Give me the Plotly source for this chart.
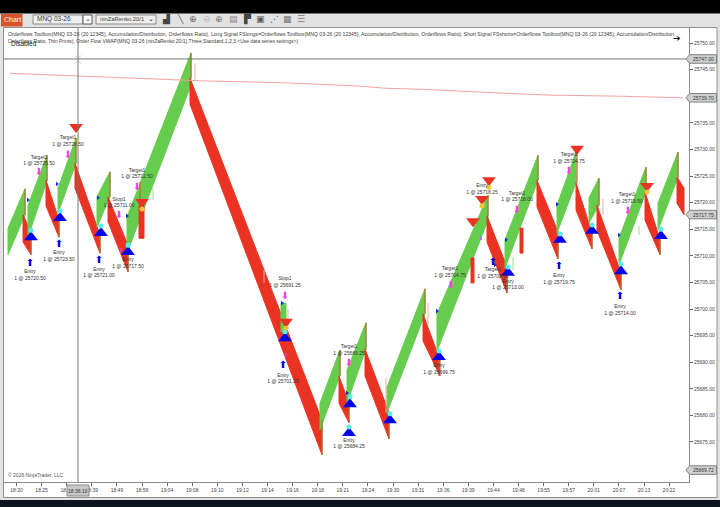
import plotly.graph_objects as go

FONT = "Liberation Sans"
W, H = 720, 507

# --- axis labels ---
time_labels = ["18:20", "18:25", "18:33", "18:39", "18:49", "18:59", "19:04", "19:08", "19:10", "19:12",
               "19:14", "19:16", "19:18", "19:21", "19:24", "19:30", "19:31", "19:36", "19:39", "19:44",
               "19:48", "19:55", "19:57", "20:01", "20:07", "20:13", "20:22"]
price_ticks = [25750, 25745, 25735, 25730, 25725, 25720, 25715, 25710, 25705, 25700, 25695, 25690, 25685, 25680, 25675]

# --- renko legs, one row per up move ---
green_x0 = [-8.5, 11.5, 41.5, 80.5, 110.5, 264.5, 303.5, 330.5, 370.5, 420.5, 488.5, 540.5, 572.5, 602.5, 641.5]
green_x1 = [8.5, 30.5, 59.5, 93.5, 174.5, 269.5, 323.5, 349.5, 408.5, 471.5, 521.5, 559.5, 582.5, 629.5, 661.5]
green_top0 = [25715.2, 25719.5, 25722.7, 25721.1, 25717.3, 25701.1, 25682.3, 25688.5, 25685.3, 25699.1, 25713.0, 25719.5, 25720.9, 25713.3, 25719.9]
green_bot0 = [25710.2, 25713.5, 25718.0, 25715.4, 25710.5, 25695.7, 25677.3, 25682.3, 25680.5, 25692.1, 25707.7, 25714.3, 25716.2, 25708.3, 25714.8]
green_top1 = [25722.6, 25728.9, 25732.1, 25725.8, 25748.1, 25701.1, 25692.3, 25697.4, 25703.8, 25721.4, 25728.9, 25729.5, 25724.6, 25726.7, 25729.5]
green_bot1 = [25717.7, 25724.1, 25727.4, 25721.1, 25742.1, 25695.7, 25687.4, 25692.5, 25699.1, 25716.7, 25724.2, 25723.7, 25719.5, 25722.0, 25724.8]

# --- renko legs, one row per down move ---
red_x0 = [6.5, 29.5, 58.5, 91.5, 122.5, 173.5, 322.5, 348.5, 406.5, 454.5, 470.5, 503.5, 520.5, 559.5, 580.5, 628.5, 660.5]
red_x1 = [14.5, 42.5, 83.5, 111.5, 127.5, 305.5, 332.5, 372.5, 423.5, 457.5, 490.5, 506.5, 541.5, 575.5, 604.5, 643.5, 667.5]
red_top0 = [25717.7, 25724.2, 25727.4, 25721.1, 25719.5, 25743.4, 25687.4, 25692.5, 25699.1, 25709.6, 25717.5, 25715.2, 25724.2, 25723.7, 25719.5, 25722.0, 25724.8]
red_bot0 = [25712.6, 25719.4, 25722.7, 25716.4, 25713.3, 25738.5, 25682.3, 25687.4, 25694.0, 25704.9, 25712.6, 25710.5, 25719.2, 25718.6, 25714.8, 25716.7, 25719.9]
red_top1 = [25714.5, 25716.7, 25713.9, 25712.0, 25719.5, 25679.1, 25682.3, 25680.5, 25690.4, 25709.6, 25707.9, 25715.2, 25714.5, 25714.3, 25706.8, 25713.0, 25722.7]
red_bot1 = [25710.2, 25713.5, 25710.5, 25707.0, 25713.3, 25672.6, 25678.6, 25675.6, 25687.4, 25704.9, 25703.0, 25710.5, 25709.4, 25711.3, 25703.6, 25710.2, 25717.7]

# --- wicks ---
olive_x = [8.5, 30.5, 59.5, 93.5, 123.5, 174.5, 323.5, 349.5, 408.5, 471.5, 521.5, 560.5, 582.5, 629.5, 661.5,
           14.5, 42.5, 83.5, 111.5, 305.5, 332.5, 372.5, 422.5, 490.5, 541.5, 575.5, 604.5, 643.5]
olive_low = [25717.7, 25724.1, 25727.4, 25721.1, 25719.5, 25743.4, 25687.4, 25692.5, 25699.1, 25717.5, 25724.2, 25723.7, 25719.5, 25722.0, 25724.8,
             25710.2, 25713.5, 25710.5, 25707.0, 25672.6, 25678.6, 25675.6, 25687.4, 25703.0, 25709.4, 25711.3, 25703.6, 25710.2]
olive_high = [25722.6, 25728.9, 25732.1, 25725.8, 25723.9, 25748.1, 25692.3, 25697.4, 25703.8, 25721.4, 25728.9, 25729.5, 25724.6, 25726.7, 25729.5,
              25714.5, 25716.7, 25713.9, 25712.0, 25679.1, 25682.3, 25680.5, 25690.4, 25707.9, 25714.5, 25714.3, 25706.8, 25713.0]
pale_x = [178.5, 369.5, 411.5, 271.5, 586.5, 247.5]
pale_low = [25743.0, 25680.5, 25697.0, 25696.1, 25717.7, 25704.9]
pale_high = [25746.2, 25687.0, 25701.1, 25700.0, 25720.7, 25707.3]
thin_green_x = [622.5, 136.5, 496.5]
thin_green_low = [25713.9, 25720.5, 25707.3]
thin_green_high = [25715.6, 25722.7, 25709.8]

# --- order flow vwap ---
vwap_x = [-6.5, 62.5, 183.5, 270.5, 343.5, 368.5, 404.5, 483.5, 533.5, 603.5, 666.5]
vwap_y = [25744.3, 25743.8, 25742.9, 25742.5, 25741.9, 25741.5, 25741.3, 25740.6, 25740.2, 25740.0, 25739.7]

# --- signals and fills ---
long_x = [14.5, 43.5, 84.5, 111.5, 268.5, 333.5, 332.5, 373.5, 422.5, 491.5, 543.5, 575.5, 604.5, 644.5]
long_y = [25713.5, 25717.1, 25714.3, 25710.7, 25694.5, 25682.1, 25676.7, 25679.1, 25691.0, 25706.8, 25713.0, 25714.7, 25707.1, 25713.7]
cyan_y = [25714.8, 25718.4, 25715.6, 25712.0, 25695.7, 25683.5, 25677.8, 25680.3, 25692.1, 25707.9, 25714.1, 25715.8, 25708.5, 25715.0]
short_x = [59.5, 125.5, 269.5, 472.5, 465.5, 456.5, 560.5, 630.5]
short_y = [25734.2, 25720.1, 25697.6, 25724.2, 25720.7, 25716.5, 25730.1, 25723.1]
yellow_x = [125.5, 269.5, 472.5, 465.5, 630.5]
yellow_y = [25718.8, 25696.4, 25722.9, 25719.4, 25722.0]
exit_x = [22.5, 51.5, 120.5, 102.5, 268.5, 332.5, 434.5, 500.5, 552.5, 611.5]
exit_y = [25725.6, 25728.9, 25722.9, 25717.5, 25702.4, 25689.7, 25704.5, 25718.6, 25725.8, 25718.4]
small_exit_x = [104.5, 269.5, 464.5]
small_exit_y = [25710.9, 25691.2, 25713.2]
flag_x = [11.5, 40.5, 81.5, 110.5, 265.5, 330.5, 420.5, 489.5, 478.5, 540.5, 602.5]
flag_y = [25720.5, 25723.5, 25720.9, 25717.5, 25701.1, 25684.2, 25699.6, 25713.0, 25708.3, 25719.7, 25713.9]
entry_x = [13.5, 42.5, 82.5, 266.5, 476.5, 542.5, 603.5]
entry_y = [25708.6, 25712.2, 25709.2, 25689.3, 25708.8, 25707.9, 25702.3]

# --- trade labels ---
label_x = [13.5, 42.5, 82.5, 111.5, 22.5, 51.5, 120.5, 102.5, 268.5, 266.5, 332.5, 332.5, 422.5, 433.5, 465.5, 476.5, 491.5, 500.5, 542.5, 552.5, 610.5, 603.5]
label_y = [25706.3, 25709.9, 25706.8, 25708.6, 25727.9, 25731.5, 25725.4, 25720.0, 25705.0, 25686.9, 25692.2, 25674.7, 25688.7, 25706.9, 25722.5, 25706.7, 25704.6, 25721.1, 25705.6, 25728.3, 25720.8, 25699.8]
label_name = ["Entry", "Entry", "Entry", "Entry", "Target1", "Target1", "Target1", "Stop1", "Stop1", "Entry", "Target1", "Entry", "Entry", "Target1", "Entry", "Target1", "Entry", "Target1", "Entry", "Target1", "Target1", "Entry"]
label_price = ["25720.50", "25723.50", "25721.00", "25717.50", "25725.50", "25728.50", "25722.50", "25711.00", "25691.25", "25701.25", "25689.25", "25684.25", "25699.75", "25704.75", "25718.25", "25708.50", "25713.00", "25718.00", "25719.75", "25724.75", "25719.50", "25714.00"]

# --- price tags on the right axis ---
tag_prices = [25747.00, 25739.70, 25717.75, 25669.72]

GREEN = "#66cc4d"
RED = "#ea3323"

fig = go.Figure()

# legs go on in time order so the short ones sit on top of the long ones
legs = [(x0, x1, t0, b0, t1, b1, GREEN) for x0, x1, t0, b0, t1, b1 in zip(green_x0, green_x1, green_top0, green_bot0, green_top1, green_bot1)]
legs += [(x0, x1, t0, b0, t1, b1, RED) for x0, x1, t0, b0, t1, b1 in zip(red_x0, red_x1, red_top0, red_bot0, red_top1, red_bot1)]
for x0, x1, t0, b0, t1, b1, color in sorted(legs, key=lambda leg: leg[0]):
    fig.add_trace(go.Scatter(x=[x0, x0, x1, x1, x0], y=[b0, t0, t1, b1, b0], mode="lines", fill="toself",
                             fillcolor=color, line=dict(color=color, width=1), hoverinfo="skip"))


def add_wicks(xs, lows, highs, color, width):
    wx, wy = [], []
    for x, lo, hi in zip(xs, lows, highs):
        wx += [x, x, None]
        wy += [lo, hi, None]
    fig.add_trace(go.Scatter(x=wx, y=wy, mode="lines", line=dict(color=color, width=width), hoverinfo="skip"))


add_wicks(olive_x, olive_low, olive_high, "#a8752f", 1.2)
add_wicks(pale_x, pale_low, pale_high, "#f5a99f", 1)
add_wicks(thin_green_x, thin_green_low, thin_green_high, "#9ee08c", 1)

fig.add_trace(go.Scatter(x=vwap_x, y=vwap_y, mode="lines", line=dict(color="#f4a3a0", width=1), hoverinfo="skip"))


def add_markers(xs, ys, symbol, color, size):
    fig.add_trace(go.Scatter(x=xs, y=ys, mode="markers", hoverinfo="skip",
                             marker=dict(symbol=symbol, color=color, size=size, line=dict(width=0))))


def add_glyphs(xs, ys, glyph, color, size):
    fig.add_trace(go.Scatter(x=xs, y=ys, mode="text", text=[glyph] * len(xs), hoverinfo="skip",
                             textfont=dict(family="DejaVu Sans", size=size, color=color)))


add_markers(long_x, long_y, "triangle-up", "#0000f0", 12)
add_markers(long_x, cyan_y, "circle", "#55eef0", 5)
add_markers(short_x, short_y, "triangle-down", "#ea3323", 12)
add_markers(yellow_x, yellow_y, "circle", "#f7c531", 5)
add_glyphs(exit_x, exit_y, "⬇", "#ee44ee", 10)
add_glyphs(small_exit_x, small_exit_y, "⬇", "#ee44ee", 5)
add_markers(flag_x, flag_y, "triangle-right", "#1030e0", 4)
add_glyphs(entry_x, entry_y, "⬆", "#0000f0", 10)

fig.add_trace(go.Scatter(x=label_x, y=label_y, mode="text", hoverinfo="skip",
                         text=[f"{n}<br>1 @ {p}" for n, p in zip(label_name, label_price)],
                         textfont=dict(family=FONT, size=5, color="#333333")))

shapes = []


def box(x0, y0, x1, y1, fill, line=None, layer="below"):
    shapes.append(dict(type="rect", xref="paper", yref="paper", x0=x0 / W, x1=x1 / W, y0=1 - y0 / H, y1=1 - y1 / H,
                       fillcolor=fill, line=dict(color=line or fill, width=1 if line else 0), layer=layer))


box(0, 0, W, 13.5, "#000000")
box(0, 500, W, H, "#0c141e")
box(3.5, 27.5, 717, 497.5, "#ffffff", "#8f8f8f")

# crosshair
shapes.append(dict(type="line", xref="paper", yref="y", x0=4 / W, x1=689 / W, y0=25747, y1=25747, line=dict(color="#767676", width=1)))
shapes.append(dict(type="line", xref="x", yref="paper", x0=61.5, x1=61.5, y0=1 - 482 / H, y1=1 - 28 / H, line=dict(color="#767676", width=1)))
for dx0, dy0, dx1, dy1 in [(-3, -4, -1, -2), (3, -4, 1, -2), (-3, 4, -1, 2), (3, 4, 1, 2)]:
    shapes.append(dict(type="line", xref="paper", yref="paper", x0=(78 + dx0) / W, x1=(78 + dx1) / W,
                       y0=1 - (59.5 + dy0) / H, y1=1 - (59.5 + dy1) / H, line=dict(color="#a0a0a0", width=0.7)))

annotations = []


def label(x, y, text, size=5, color="#3c3c3c", anchor="left", **kw):
    annotations.append(dict(xref="paper", yref="paper", x=x / W, y=1 - y / H, text=text, showarrow=False, xanchor=anchor, yanchor="middle",
                            font=dict(family=kw.pop("family", FONT), size=size, color=color), borderpad=0, **kw))


# price tags
for price in tag_prices:
    a, b, c = 686 / W, 689.5 / W, 716.5 / W
    shapes.append(dict(type="path", xref="paper", yref="y", layer="above", fillcolor="#cfcfcf", line=dict(color="#808080", width=1),
                       path=f"M {a},{price} L {b},{price + 0.8} L {c},{price + 0.8} L {c},{price - 0.8} L {b},{price - 0.8} Z"))
    annotations.append(dict(xref="paper", yref="y", x=703 / W, y=price, text=f"{price:.2f}", showarrow=False, xanchor="center",
                            font=dict(family=FONT, size=5, color="#333333")))

# toolbar
box(1, 14, 22.5, 26.5, "#d9532b")
label(12, 19.5, "Chart", size=7, color="#ffffff", anchor="center")
box(33, 15, 83, 24, "#eeeeee", "#8a8a8a")
box(83, 15, 92, 24, "#ffffff", "#555555")
label(36, 19.5, "MNQ 03-26", size=6.5)
label(87.5, 19.5, "⌄", size=7, anchor="center", color="#222222", family="DejaVu Sans")
box(96, 15, 156, 24, "#eeeeee", "#8a8a8a")
label(99, 19.5, "ninZaRenko 20/1", size=5.8)
label(151, 19.5, "⌄", size=7, anchor="center", color="#222222", family="DejaVu Sans")
for x, glyph, col in [(166, "▟", "#444444"), (180, "╲", "#666666"), (193, "⊕", "#666666"), (207, "⊖", "#bbbbbb"), (219, "⊕", "#777777"),
                      (233, "▤", "#888888"), (247, "▛", "#444444"), (260, "▣", "#555555"), (274, "⋰", "#555555"), (287, "▦", "#777777"), (301, "☰", "#777777")]:
    label(x, 19.5, glyph, size=9, color=col, anchor="center", family="DejaVu Sans")

# header text
label(7, 34, "Orderflows Toolbox(MNQ 03-26 (20 12345), Accumulation/Distribution, Orderflows Ratio), Long Signal FSlongs=Orderflows Toolbox(MNQ 03-26 (20 12345), Accumulation/Distribution, Orderflows Ratio), Short Signal FSshorts=Orderflows Toolbox(MNQ 03-26 (20 12345), Accumulation/Distribution,", size=5.1)
label(7, 41, "Orderflows Ratio, Thin Prints), Order Flow VWAP(MNQ 03-26 (ninZaRenko 20/1),Three,Standard,1,2,3,&lt;Use data series settings&gt;)", size=5)
label(10, 43.5, "Disabled", size=6.5, color="#222222")
label(7, 474.5, "© 2026 NinjaTrader, LLC", size=5, color="#555555")
label(677, 38, "➔", size=9, color="#111111", anchor="center", family="DejaVu Sans")

# crosshair time box
box(67, 485, 89, 496, "#c8c8c8", "#8a8a8a", layer="above")
label(78, 490.5, "18:36:10", size=5, color="#333333", anchor="center")

fig.update_layout(
    width=W, height=H, showlegend=False, margin=dict(l=0, r=0, t=0, b=0),
    paper_bgcolor="#e2e2e2", plot_bgcolor="#ffffff", shapes=shapes, annotations=annotations,
    xaxis=dict(domain=[4 / W, 689 / W], range=[-12.5, 672.5], tickvals=[i * 25.1 for i in range(len(time_labels))], ticktext=time_labels,
               showgrid=False, zeroline=False, showline=True, linecolor="#8a8a8a", ticks="outside", ticklen=3, tickcolor="#666666",
               tickfont=dict(family=FONT, size=5, color="#444444")),
    yaxis=dict(domain=[1 - 482 / H, 1 - 28 / H], range=[25667.48, 25752.82], side="right", tickvals=price_ticks, ticktext=[f"{p}.00" for p in price_ticks],
               showgrid=False, zeroline=False, showline=True, linecolor="#8a8a8a", ticks="outside", ticklen=3, tickcolor="#666666",
               tickfont=dict(family=FONT, size=5, color="#444444")),
)

# the page's default body margin would push the fixed-size figure off the window
fig.write_html("out.html", post_script="document.body.style.margin = '0';", config={"displayModeBar": False})
